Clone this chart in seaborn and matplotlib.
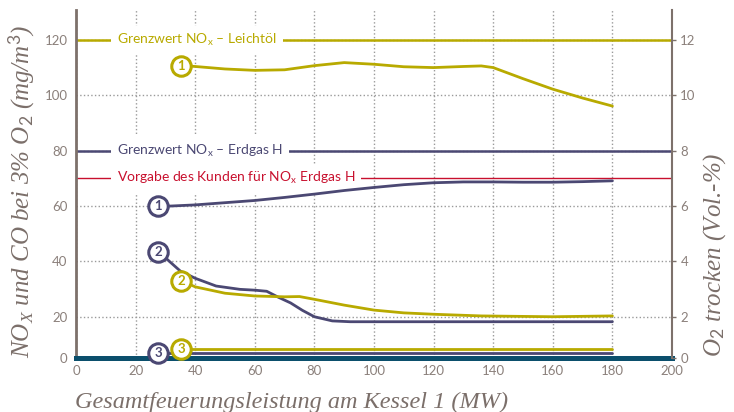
import matplotlib
matplotlib.use("Agg")
import pandas as pd
import matplotlib.pyplot as plt
import seaborn as sns

# Werte
# Kurve 1: O2 trocken (rechte Achse, Vol.-%)
x_o2_gas = [27.6, 30, 40, 50, 60, 70, 80, 90, 100, 110, 120, 130, 140, 150, 160, 170, 180]
o2_gas = [6.00, 5.99, 6.04, 6.12, 6.20, 6.31, 6.43, 6.56, 6.67, 6.77, 6.84, 6.87, 6.87, 6.86, 6.86, 6.88, 6.91]
x_o2_oel = [35.4, 40, 50, 60, 70, 80, 90, 100, 110, 120, 130, 136, 140, 150, 160, 170, 180]
o2_oel = [11.07, 11.04, 10.95, 10.90, 10.92, 11.07, 11.18, 11.12, 11.03, 11.00, 11.04, 11.06, 11.00, 10.60, 10.22, 9.90, 9.61]

# Kurve 2: NOx (linke Achse, mg/m3)
x_nox_gas = [27.6, 30, 35, 40, 47, 55, 60, 64, 68, 72, 76, 80, 86, 92, 100, 120, 140, 160, 180]
nox_gas = [43.3, 41.3, 36.5, 33.9, 31.1, 29.9, 29.6, 29.2, 27.0, 25.0, 22.3, 20.0, 18.5, 18.2, 18.2, 18.2, 18.2, 18.2, 18.2]
x_nox_oel = [35.4, 40, 50, 60, 70, 75, 80, 90, 100, 110, 120, 136, 160, 180]
nox_oel = [33.0, 30.8, 28.5, 27.5, 27.2, 27.3, 26.3, 24.2, 22.4, 21.4, 20.9, 20.3, 20.0, 20.3]

# Kurve 3: CO (linke Achse)
x_co_gas = [27.6, 180]
co_gas = [7.0, 7.0]
x_co_oel = [35.4, 180]
co_oel = [8.2, 8.2]

# Grenzwerte
grenz_oel = 120
grenz_gas = 80
vorgabe_gas = 70

x_ticks = [0, 20, 40, 60, 80, 100, 120, 140, 160, 180, 200]
y_null = 5.1  # unterer Rand der Achse, im Original mit "0" beschriftet
y_ticks = [y_null, 20, 40, 60, 80, 100, 120]
y_labels = ["0", "20", "40", "60", "80", "100", "120"]
y2_labels = ["0", "2", "4", "6", "8", "10", "12"]

GELB = "#b8aa00"
LILA = "#4b4873"
ROT = "#c8102e"
PETROL = "#0b4f6c"
BRAUN = "#7d716b"
TICKFARBE = "#8b807b"

sns.set_style("white")
plt.rcParams["font.family"] = ["Lato", "DejaVu Sans"]
plt.rcParams["mathtext.fontset"] = "custom"
plt.rcParams["mathtext.rm"] = "Lato"
plt.rcParams["mathtext.it"] = "Liberation Serif:italic"

fig = plt.figure(figsize=(7.34, 4.12), dpi=100)
ax = fig.add_axes([76 / 734, 1 - 358 / 412, 596 / 734, 348 / 412])
ax2 = ax.twinx()

df_nox = pd.concat([
    pd.DataFrame({"x": x_nox_gas, "wert": nox_gas, "reihe": "nox_gas"}),
    pd.DataFrame({"x": x_co_gas, "wert": co_gas, "reihe": "co_gas"}),
    pd.DataFrame({"x": x_nox_oel, "wert": nox_oel, "reihe": "nox_oel"}),
    pd.DataFrame({"x": x_co_oel, "wert": co_oel, "reihe": "co_oel"}),
])
df_o2 = pd.concat([
    pd.DataFrame({"x": x_o2_gas, "wert": o2_gas, "reihe": "o2_gas"}),
    pd.DataFrame({"x": x_o2_oel, "wert": o2_oel, "reihe": "o2_oel"}),
])
farben = {"nox_gas": LILA, "co_gas": LILA, "nox_oel": GELB, "co_oel": GELB,
          "o2_gas": LILA, "o2_oel": GELB}

sns.lineplot(data=df_nox, x="x", y="wert", hue="reihe", palette=farben, sort=False,
             estimator=None, legend=False, linewidth=2, ax=ax, zorder=3)
sns.lineplot(data=df_o2, x="x", y="wert", hue="reihe", palette=farben, sort=False,
             estimator=None, legend=False, linewidth=2, ax=ax2, zorder=3)

# Grenzwertlinien mit Beschriftung
grenzen = [
    (grenz_oel, GELB, 1.8, r"Grenzwert NO$_\mathrm{x}$ – Leichtöl"),
    (grenz_gas, LILA, 1.8, r"Grenzwert NO$_\mathrm{x}$ – Erdgas H"),
    (vorgabe_gas, ROT, 1.0, r"Vorgabe des Kunden für NO$_\mathrm{x}$ Erdgas H"),
]
for wert, farbe, lw, text in grenzen:
    ax.axhline(wert, color=farbe, lw=lw, zorder=2)
    ax.text(13.7, wert, text, color=farbe, fontsize=10, ha="left", va="center", zorder=4,
            bbox=dict(facecolor="white", edgecolor="none", pad=4.5))

# Nummern-Kreise am Kurvenanfang
def kreis(achse, xs, ys, nummer, farbe):
    achse.plot(xs[0], ys[0], "o", ms=14, mfc="white", mec=farbe, mew=2.2, zorder=6, clip_on=False)
    achse.text(xs[0], ys[0], nummer, color=farbe, fontsize=9.5, fontweight="bold",
               ha="center", va="center", zorder=7)

kreis(ax2, x_o2_gas, o2_gas, "1", LILA)
kreis(ax2, x_o2_oel, o2_oel, "1", GELB)
kreis(ax, x_nox_gas, nox_gas, "2", LILA)
kreis(ax, x_nox_oel, nox_oel, "2", GELB)
kreis(ax, x_co_gas, co_gas, "3", LILA)
kreis(ax, x_co_oel, co_oel, "3", GELB)

# Achsen
ax.set_xlim(0, 200)
ax.set_ylim(y_null, 130.8)
ax2.set_ylim(y_null / 10, 13.08)
ax.set_xticks(x_ticks)
ax.set_yticks(y_ticks)
ax.set_yticklabels(y_labels)
ax2.set_yticks([t / 10 for t in y_ticks])
ax2.set_yticklabels(y2_labels)
ax.set_xlabel("")
ax.set_ylabel("")
ax2.set_ylabel("")

ax.grid(True, linestyle=":", color="#9a9a9a", linewidth=1)
ax.set_axisbelow(True)

for a in (ax, ax2):
    for s in a.spines.values():
        s.set_visible(False)
ax.spines["left"].set_visible(True)
ax.spines["left"].set_color(BRAUN)
ax.spines["left"].set_linewidth(2)
ax2.spines["right"].set_visible(True)
ax2.spines["right"].set_color(BRAUN)
ax2.spines["right"].set_linewidth(1.5)
ax.spines["bottom"].set_visible(True)
ax.spines["bottom"].set_color(PETROL)
ax.spines["bottom"].set_linewidth(3.6)

ax.tick_params(axis="x", length=0, pad=5, labelsize=9.5, labelcolor=TICKFARBE)
ax.tick_params(axis="y", length=0, pad=6, labelsize=9.5, labelcolor=TICKFARBE)
ax2.tick_params(axis="y", length=3, width=1, color=BRAUN, pad=3, labelsize=9.5,
                labelcolor=TICKFARBE)

# Achsentitel
LABELFARBE = "#7b6f6a"
fig.text(75 / 734, 4 / 412, "Gesamtfeuerungsleistung am Kessel 1 (MW)", family="Liberation Serif",
         style="italic", fontsize=17.5, color=LABELFARBE, ha="left", va="baseline")
fig.text(22 / 734, 1 - 358 / 412, r"NO$_\mathit{X}$ und CO bei 3% O$_\mathit{2}$ (mg/m$^\mathit{3}$)",
         family="Liberation Serif", style="italic", fontsize=18, color=LABELFARBE,
         rotation=90, ha="center", va="bottom")
fig.text(715 / 734, 1 - 357 / 412, r"O$_\mathit{2}$ trocken (Vol.-%)", family="Liberation Serif",
         style="italic", fontsize=18, color=LABELFARBE, rotation=90, ha="center", va="bottom")

fig.savefig("out.png", dpi=100)
